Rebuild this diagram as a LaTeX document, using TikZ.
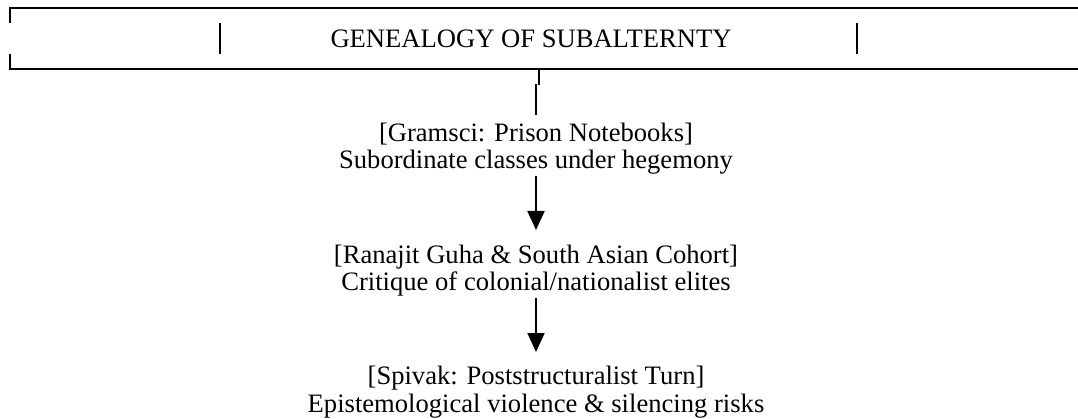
\documentclass[tikz,border=0pt]{standalone}
\usepackage{fontspec}
\setmainfont{Liberation Serif}
\usetikzlibrary{arrows.meta}
\begin{document}
\begin{tikzpicture}[x=1pt,y=-1pt,
  rule/.style={line width=2pt, line cap=butt, line join=miter},
  txt/.style={font=\fontsize{26.6}{27.5}\selectfont, align=center, inner sep=0pt},
  conn/.style={line width=2pt},
  arr/.style={line width=2pt, -{Triangle[width=17pt,length=19pt]}}]
\useasboundingbox (0,0) rectangle (1078,419);

% header frame (text-art box)
\draw[rule] (10,23) -- (10,8) -- (1078,8);
\draw[rule] (10,54) -- (10,69) -- (1078,69);
\draw[rule] (220,23) -- (220,54);
\draw[rule] (857,23) -- (857,54);

\node[txt, anchor=base] (title) at (531,47.7) {GENEALOGY OF SUBALTERNTY};

\node[txt] (gramsci) at (536,148.5) {[Gramsci: Prison Notebooks]\\Subordinate classes under hegemony};
\node[txt] (guha) at (536,270.5) {[Ranajit Guha \& South Asian Cohort]\\Critique of colonial/nationalist elites};
\node[txt] (spivak) at (536,392) {[Spivak: Poststructuralist Turn]\\Epistemological violence \& silencing risks};

% connectors
\coordinate (t0) at (539,69);
\coordinate (t1) at (539,85);
\draw[rule] (t0) -- (t1);
\coordinate (a0) at (536,84);
\coordinate (a1) at (536,115);
\draw[conn] (a0) -- (a1);
\coordinate (b0) at (536,176);
\coordinate (b1) at (536,230);
\draw[arr] (b0) -- (b1);
\coordinate (c0) at (536,298);
\coordinate (c1) at (536,352);
\draw[arr] (c0) -- (c1);
\end{tikzpicture}
\end{document}
